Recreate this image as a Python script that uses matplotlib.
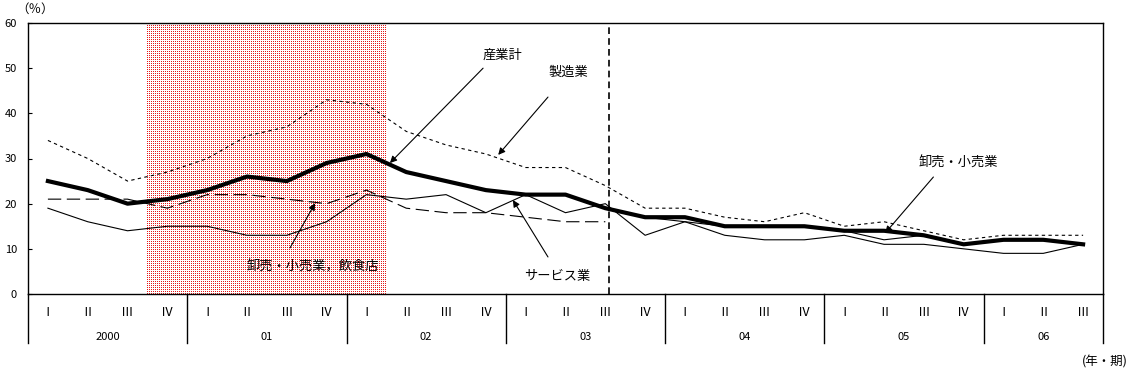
import numpy as np
import matplotlib
matplotlib.use("Agg")
import matplotlib.pyplot as plt

plt.rcParams['font.family'] = ['Noto Sans CJK JP', 'DejaVu Sans']

# quarters 2000 I .. 2006 III
quarters = ['Ⅰ', 'Ⅱ', 'Ⅲ', 'Ⅳ'] * 6 + ['Ⅰ', 'Ⅱ', 'Ⅲ']
years = ['2000', '01', '02', '03', '04', '05', '06']
year_len = [4, 4, 4, 4, 4, 4, 3]

total = [25, 23, 20, 21, 23, 26, 25, 29, 31, 27, 25, 23, 22, 22, 19,
         17, 17, 15, 15, 15, 14, 14, 13, 11, 12, 12, 11]
manufacturing = [34, 30, 25, 27, 30, 35, 37, 43, 42, 36, 33, 31, 28, 28, 24,
                 19, 19, 17, 16, 18, 15, 16, 14, 12, 13, 13, 13]
services = [19, 16, 14, 15, 15, 13, 13, 16, 22, 21, 22, 18, 22, 18, 20,
            13, 16, 13, 12, 12, 13, 11, 11, 10, 9, 9, 11]
# old classification, 2000 I - 2003 III
wholesale_food = [21, 21, 21, 19, 22, 22, 21, 20, 23, 19, 18, 18, 17, 16, 16]
# new classification, 2003 IV - 2006 III
wholesale = [17, 16, 15, 15, 15, 14, 12, 13, 11, 12, 12, 11]

recession = (2.5, 8.5)
break_pos = 14.1

x = np.arange(len(quarters))
x_old = x[:len(wholesale_food)]
x_new = x[len(x) - len(wholesale):]

fig = plt.figure(figsize=(11.35, 3.70), dpi=100)
ax = fig.add_axes([28/1135, 1-294/370, 1075/1135, 271/370])
ax.set_xlim(-0.5, len(quarters) - 0.5)
ax.set_ylim(0, 60)

# shaded period: fine red dot screen
w_px = int(round(1075 * (recession[1] - recession[0]) / len(quarters)))
h_px = 271
rr, cc = np.mgrid[0:h_px, 0:w_px]
dots = (rr % 2 == 0) & (cc % 2 == 0)
screen = np.ones((h_px, w_px, 3))
screen[dots] = [0.9, 0.1, 0.1]
ax.imshow(screen, extent=(recession[0], recession[1], 0, 60), aspect='auto',
          interpolation='nearest', zorder=0)

ax.plot(x, manufacturing, color='black', lw=0.8, dashes=(3, 3))
ax.plot(x, services, color='black', lw=0.8)
ax.plot(x_old, wholesale_food, color='black', lw=0.8, dashes=(12, 5))
ax.plot(x_new, wholesale, color='black', lw=0.8)
ax.plot(x, total, color='black', lw=3.0)

ax.vlines(break_pos, 0, 59.2, colors='black', lw=1.2, linestyles=(0, (4, 2.5)))

ax.set_xlim(-0.5, len(quarters) - 0.5)
ax.set_ylim(0, 60)
ax.set_yticks(range(0, 61, 10))
ax.tick_params(axis='y', direction='in', length=3, labelsize=8, pad=8)
ax.set_xticks(x)
ax.set_xticklabels(quarters, fontsize=9)
ax.tick_params(axis='x', length=0, pad=9)
for s in ax.spines.values():
    s.set_linewidth(1.0)

# year row under the quarters
trans = ax.get_xaxis_transform()
start = -0.5
bounds = [start]
for y, n in zip(years, year_len):
    ax.text(start + n / 2, -0.159, y, transform=trans, ha='center', va='center', fontsize=8)
    start += n
    bounds.append(start)
for b in bounds:
    ax.plot([b, b], [0, -0.181], transform=trans, color='black', lw=1.0, clip_on=False)

# labels and arrows
arrow = dict(arrowstyle='-|>', color='black', lw=0.8, mutation_scale=10, shrinkA=0, shrinkB=0)
notes = [
    ('産業計', (11.41, 52.9), (10.93, 50.0), (8.59, 29.0)),
    ('製造業', (13.07, 49.1), (12.56, 43.6), (11.31, 30.8)),
    ('サービス業', (12.79, 3.8), (12.56, 8.2), (11.68, 20.8)),
    ('卸売・小売業，飲食店', (6.66, 6.0), (6.08, 10.2), (6.71, 20.1)),
    ('卸売・小売業', (22.86, 29.0), (22.24, 25.9), (21.03, 13.5)),
]
for label, pos, tail, tip in notes:
    ax.annotate('', xy=tip, xytext=tail, arrowprops=arrow)
    ax.text(pos[0], pos[1], label, ha='center', va='center', fontsize=9.5)

fig.text(35/1135, 1-9/370, '（％）', ha='center', va='center', fontsize=9)
fig.text(1105/1135, 1-362/370, '(年・期)', ha='center', va='center', fontsize=9)

fig.savefig('out.png', dpi=100)
